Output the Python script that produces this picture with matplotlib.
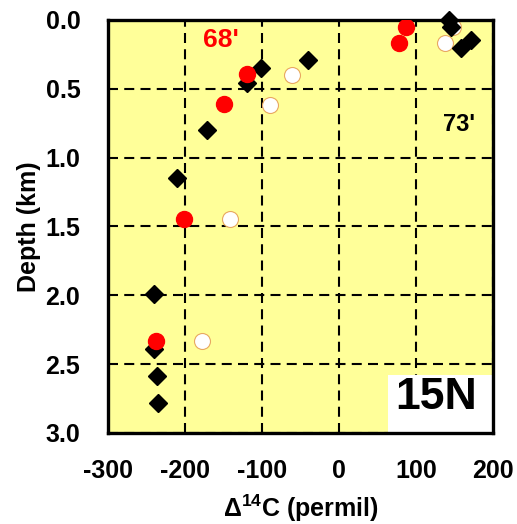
import matplotlib.pyplot as plt
from matplotlib.patches import Rectangle

plt.rcParams['font.family'] = ['Liberation Sans', 'DejaVu Sans']
plt.rcParams['font.weight'] = 'bold'
plt.rcParams['mathtext.fontset'] = 'custom'
plt.rcParams['mathtext.rm'] = 'Liberation Sans:bold'
plt.rcParams['mathtext.bf'] = 'Liberation Sans:bold'

# 73' survey (black diamonds)
d73_c14 = [143, 145, 171, 158, -41, -101, -120, -172, -210, -241, -241, -236, -235]
d73_depth = [0.0, 0.05, 0.145, 0.205, 0.29, 0.35, 0.46, 0.80, 1.15, 1.99, 2.39, 2.585, 2.78]

# 68' survey (red filled circles)
d68_c14 = [87, 78, -119, -149, -201, -238]
d68_depth = [0.05, 0.165, 0.39, 0.61, 1.445, 2.33]

# open circles
open_c14 = [148, 138, -61, -90, -142, -178]
open_depth = [0.05, 0.165, 0.40, 0.62, 1.445, 2.33]

xticks = [-300, -200, -100, 0, 100, 200]
yticks = [0.0, 0.5, 1.0, 1.5, 2.0, 2.5, 3.0]

fig = plt.figure(figsize=(5.17, 5.24), dpi=100)
ax = fig.add_axes([0.209, 0.174, 0.745, 0.788])
ax.set_facecolor('#FFFF99')

ax.plot(open_c14, open_depth, 'o', color='white', markeredgecolor='#E8A860',
        markeredgewidth=0.8, markersize=11.5, zorder=3)
ax.plot(d73_c14, d73_depth, 'D', color='black', markersize=9, zorder=9,
        clip_on=False)
ax.plot(d68_c14, d68_depth, 'o', color='#FF0000', markeredgecolor='#FF0000',
        markersize=11.5, zorder=10)

ax.set_xlim(-300, 200)
ax.set_ylim(3.0, 0.0)
ax.set_xticks(xticks)
ax.set_yticks(yticks)
ax.set_xticklabels([str(v) for v in xticks])
ax.set_yticklabels([f'{v:.1f}' for v in yticks])
ax.tick_params(axis='both', direction='in', length=6, width=1.2, labelsize=18,
               pad=19)
ax.tick_params(axis='y', length=0, pad=20)

ax.grid(True, color='black', linestyle=(0, (4.8, 3)), linewidth=1.5, zorder=1)
ax.set_axisbelow(True)
for s in ax.spines.values():
    s.set_linewidth(2.4)
    s.set_zorder(8)

ax.set_xlabel(r'$\Delta^{14}$C (permil)', fontsize=18, fontweight='bold',
              labelpad=7)
ax.set_ylabel('Depth (km)', fontsize=18, fontweight='bold', labelpad=3)

ax.text(-154, 0.145, "68'", color='#FF0000', fontsize=19, fontweight='bold',
        ha='center', va='center', zorder=6)
ax.text(156, 0.763, "73'", color='black', fontsize=17, fontweight='bold',
        ha='center', va='center', zorder=6)

ax.add_patch(Rectangle((0.727, 0.0), 0.273, 0.14, transform=ax.transAxes,
                       facecolor='white', edgecolor='none', zorder=6))
ax.text(0.853, 0.086, '15N', transform=ax.transAxes, fontsize=32,
        fontweight='bold', ha='center', va='center', zorder=7)

fig.savefig('out.png', dpi=100)
